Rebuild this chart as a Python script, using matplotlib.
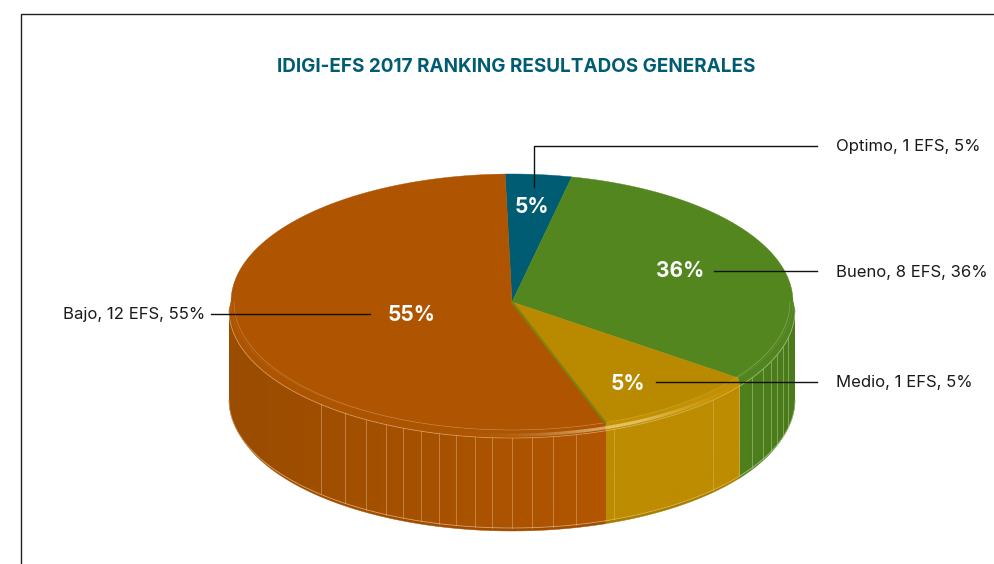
import numpy as np
import matplotlib
matplotlib.use('Agg')
import matplotlib.pyplot as plt
from matplotlib.collections import LineCollection
from matplotlib.colors import to_rgb
from matplotlib.patches import Polygon

# Datos
NOMBRES = ['Optimo', 'Bueno', 'Medio', 'Bajo']
EFS = [1, 8, 1, 12]
PORCENTAJES = [5, 36, 5, 55]
# Parte del círculo que ocupa cada sector en el dibujo
PARTES = [3.8, 31.7, 9.5, 55.0]
TITULO = 'IDIGI-EFS 2017 RANKING RESULTADOS GENERALES'

COL_TAPA = ['#005C72', '#53861F', '#B98900', '#AF5400']
COL_PARED = [('#005C72', '#005C72'), ('#4E801D', '#4A7A1B'), ('#BD8C00', '#BD8C00'), ('#9A4C00', '#B25600')]
COL_BISEL = ['#005C72', '#51841F', '#C49000', '#AD5400']
COL_FONDO = ['#005C72', '#4A7A1B', '#A87C00', '#A04D00']
COL_LINEA = ['#FFFFFF', '#BFD6A0', '#D9C25C', '#E5B98A']

# Líneas verticales de la pared
LINEAS_X = [321, 345, 366, 386, 403, 421, 439, 456, 475, 492, 512, 532, 553, 576,
            614, 713, 752, 763, 771, 777, 783, 788]

CX = 512
CY_TAPA, CY_PARED, CY_BASE, CY_FONDO = 302, 310, 400, 403
RX_TAPA, RX_PARED, RX_FONDO = 281, 283, 281
RY = 128
INICIO = 91.4


def elipse(grados, cy, rx, ry=RY):
    t = np.radians(grados)
    return CX + rx * np.cos(t), cy - ry * np.sin(t)


def contorno(a1, a2, cy1, rx1, cy2, rx2):
    t = np.linspace(a1, a2, 100)
    x1, y1 = elipse(t, cy1, rx1)
    x2, y2 = elipse(t[::-1], cy2, rx2)
    return np.r_[x1, x2], np.r_[y1, y2]


def pared(a1, a2, colores):
    # pared con degradado horizontal recortado a su contorno
    x, y = contorno(a1, a2, CY_PARED, RX_PARED, CY_BASE, RX_PARED)
    c0, c1 = np.array(to_rgb(colores[0])), np.array(to_rgb(colores[1]))
    f = np.clip((np.linspace(x.min(), x.max(), 200) - x.min()) / (x.max() - x.min()), 0, 1)
    img = (c0 + (c1 - c0) * f[:, None])[None, :, :]
    im = ax.imshow(img, extent=[x.min(), x.max(), y.max(), y.min()], aspect='auto', zorder=3)
    im.set_clip_path(Polygon(np.column_stack([x, y]), transform=ax.transData))
    ax.fill(x, y, color=colores[1], lw=0, alpha=0, zorder=3)


fig = plt.figure(figsize=(9.94, 5.64), dpi=100)
ax = fig.add_axes([0, 0, 1, 1])
plt.rcParams['font.family'] = ['Inter', 'DejaVu Sans']

# Ángulos de cada sector, en sentido horario
bordes = INICIO - np.cumsum(np.r_[0, PARTES]) * 3.6

for i in range(len(PARTES)):
    a1, a2 = bordes[i], bordes[i + 1]
    # parte visible de la pared: mitad inferior
    p1, p2 = min(a1, 0), max(a2, -180)
    if p1 > p2:
        ax.fill(*contorno(p1, p2, CY_BASE, RX_PARED, CY_FONDO, RX_FONDO), color=COL_FONDO[i], lw=0.3, zorder=2)
        pared(p1, p2, COL_PARED[i])
        # bisel superior
        ax.fill(*contorno(p1, p2, CY_TAPA, RX_TAPA, CY_PARED, RX_PARED), color=COL_BISEL[i], lw=0.3, zorder=4)
        # hilos claros sobre los bordes de la pared
        t = np.linspace(p1, p2, 100)
        ax.plot(*elipse(t, CY_PARED, RX_PARED), color=COL_LINEA[i], lw=0.6, alpha=0.6, zorder=6)
        ax.plot(*elipse(t, CY_BASE, RX_PARED), color=COL_LINEA[i], lw=0.6, alpha=0.7, zorder=6)
        ax.plot(*elipse(t, CY_TAPA, RX_TAPA - 3), color=COL_LINEA[i], lw=0.4, alpha=0.5, zorder=8)

    # tapa
    t = np.linspace(a1, a2, 120)
    x, y = elipse(t, CY_TAPA, RX_TAPA)
    ax.fill(np.r_[CX, x], np.r_[CY_TAPA, y], color=COL_TAPA[i], lw=0.3, zorder=7)

ax.set_xlim(0, 994)
ax.set_ylim(564, 0)
ax.axis('off')

# Marco
ax.plot([21, 21, 994], [564, 14, 14], color='#222222', lw=1, zorder=1)

# Líneas verticales sobre la pared
for x in LINEAS_X:
    a = -np.degrees(np.arccos((x - CX) / RX_PARED))
    i = int(np.searchsorted(-bordes, -a)) - 1
    y1, y2 = elipse(a, CY_PARED, RX_PARED)[1], elipse(a, CY_BASE, RX_PARED)[1]
    ax.plot([x, x], [y1, y2], color=COL_LINEA[i], lw=0.6, alpha=0.55, zorder=5)

# Brillo del bisel junto al límite Medio / Bajo
t = np.linspace(-36, -112, 90)
xb, yb = elipse(t, (CY_TAPA + CY_PARED) / 2 + 1, (RX_TAPA + RX_PARED) / 2)
puntos = np.column_stack([xb, yb])
tramos = np.stack([puntos[:-1], puntos[1:]], axis=1)
brillo = np.exp(-((t[:-1] + 68) / 16) ** 2) * 0.55
ax.add_collection(LineCollection(tramos, colors=[(1, 0.93, 0.75, b) for b in brillo],
                                 linewidths=2.2, zorder=6))

# Hilo oliva entre Medio y Bajo
xm, ym = elipse(bordes[3], CY_TAPA, RX_TAPA)
ax.plot([CX, xm], [CY_TAPA, ym], color='#7F7F12', lw=1.6, zorder=8)

# Líneas guía
ax.plot([534, 534, 817], [187, 146, 146], color='#111111', lw=1, zorder=9)
ax.plot([714, 817], [271, 271], color='#111111', lw=1, zorder=9)
ax.plot([656, 817], [382, 382], color='#111111', lw=1, zorder=9)
ax.plot([211, 370], [314, 314], color='#111111', lw=1, zorder=9)

# Textos
ax.text(516, 67, TITULO, color='#005C72', fontsize=13.6, fontweight='bold',
        ha='center', va='center')

pos_pct = [(532, 207), (680, 271), (628, 384), (412, 315)]
pos_nom = [(836, 147, 'left'), (836, 273, 'left'), (836, 382, 'left'), (205, 315, 'right')]
for i, nombre in enumerate(NOMBRES):
    ax.text(pos_pct[i][0], pos_pct[i][1], f'{PORCENTAJES[i]}%', color='white', fontsize=15,
            fontweight='bold', ha='center', va='center', zorder=10)
    ax.text(pos_nom[i][0], pos_nom[i][1], f'{nombre}, {EFS[i]} EFS, {PORCENTAJES[i]}%',
            color='#1A1A1A', fontsize=12, ha=pos_nom[i][2], va='center', zorder=10)

fig.savefig('out.png', dpi=100, facecolor='white')
